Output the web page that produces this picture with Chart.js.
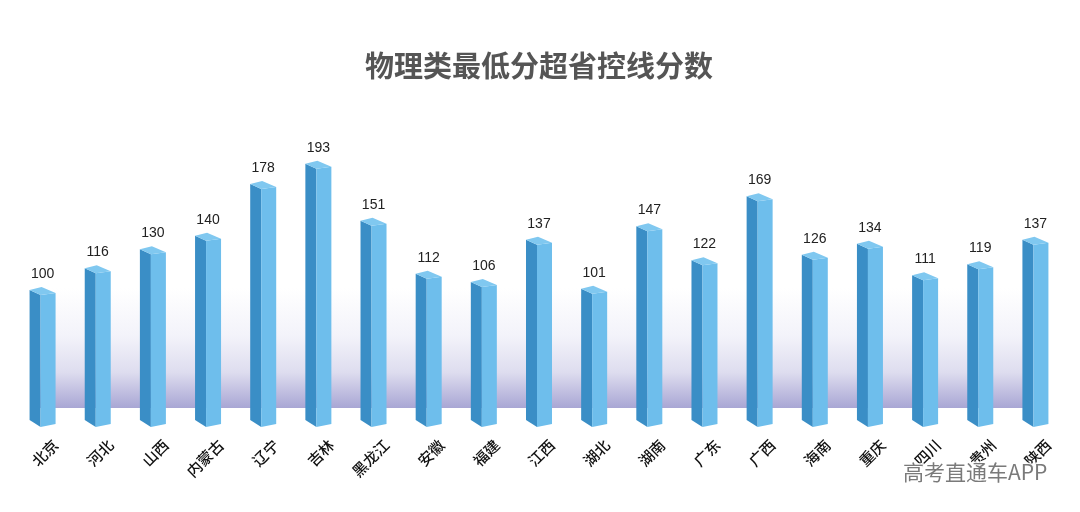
<!DOCTYPE html>
<html><head><meta charset="utf-8">
<script src="https://cdn.jsdelivr.net/npm/chart.js@4.4.0/dist/chart.umd.min.js"></script>
<style>html,body{margin:0;padding:0;background:#fff;}#wrap{width:1080px;height:512px;position:relative;}</style>
</head><body><div id="wrap"><canvas id="c"></canvas></div>
<script>
const categories = ['北京','河北','山西','内蒙古','辽宁','吉林','黑龙江','安徽','福建','江西','湖北','湖南','广东','广西','海南','重庆','四川','贵州','陕西'];
const values = [100,116,130,140,178,193,151,112,106,137,101,147,122,169,126,134,111,119,137];
const chartTitle = '物理类最低分超省控线分数';
const watermark = '高考直通车APP';

const COLORS = { side: 'rgb(58,142,198)', front: 'rgb(110,190,236)', top: 'rgb(128,200,240)' };

function poly(ctx, pts, color){
  ctx.beginPath();
  ctx.moveTo(pts[0][0], pts[0][1]);
  for (let i = 1; i < pts.length; i++) ctx.lineTo(pts[i][0], pts[i][1]);
  ctx.closePath();
  ctx.fillStyle = color;
  ctx.fill();
}

const bar3d = {
  id: 'bar3d',
  beforeDatasetsDraw(chart){
    const ctx = chart.ctx, xs = chart.scales.x, ys = chart.scales.y;
    const x0 = xs.getPixelForValue(0) - 3;
    const x1 = xs.getPixelForValue(categories.length - 1) - 5;
    const yb = ys.getPixelForValue(0) - 18;
    const yt = yb - 120;
    const g = ctx.createLinearGradient(0, yt, 0, yb);
    g.addColorStop(0, 'rgba(255,255,255,1)');
    g.addColorStop(0.4, 'rgb(243,243,250)');
    g.addColorStop(0.7, 'rgb(222,221,239)');
    g.addColorStop(1, 'rgb(168,166,212)');
    ctx.save();
    ctx.fillStyle = g;
    ctx.fillRect(x0, yt, x1 - x0, yb - yt);
    ctx.restore();
  },
  afterDatasetsDraw(chart){
    const ctx = chart.ctx;
    const meta = chart.getDatasetMeta(0);
    ctx.save();
    meta.data.forEach((el, i) => {
      const x = el.x, y0 = el.y, b = el.base;
      const L = x - 13, R = x - 2, Rt = x + 13;
      poly(ctx, [[L, y0], [R, y0 + 5], [R, b + 1], [L, b - 6]], COLORS.side);
      poly(ctx, [[R, y0 + 5], [Rt, y0 + 3], [Rt, b - 2], [R, b + 1]], COLORS.front);
      poly(ctx, [[L, y0], [x - 1, y0 - 3], [Rt, y0 + 3], [R, y0 + 5]], COLORS.top);
      ctx.fillStyle = '#222';
      ctx.font = '14px "Liberation Sans", Arial, sans-serif';
      ctx.textAlign = 'center';
      ctx.textBaseline = 'middle';
      ctx.fillText(String(values[i]), x, y0 - 16);
    });
    ctx.restore();
  },
  afterDraw(chart){
    const ctx = chart.ctx;
    ctx.save();
    ctx.font = '21px "Noto Sans CJK SC", sans-serif';
    ctx.textAlign = 'left';
    ctx.textBaseline = 'middle';
    ctx.lineWidth = 3;
    ctx.strokeStyle = 'rgba(255,255,255,0.9)';
    ctx.strokeText(watermark, 903, 472);
    ctx.fillStyle = '#7a7a7a';
    ctx.fillText(watermark, 903, 472);
    ctx.restore();
  }
};

new Chart(document.getElementById('c'), {
  type: 'bar',
  data: {
    labels: categories,
    datasets: [{ data: values, backgroundColor: 'rgba(0,0,0,0)', borderWidth: 0, barPercentage: 0.47, categoryPercentage: 1 }]
  },
  options: {
    responsive: true,
    maintainAspectRatio: false,
    animation: false,
    layout: { padding: { left: 15, right: 17, top: 0, bottom: 0 } },
    plugins: {
      legend: { display: false },
      tooltip: { enabled: false },
      title: {
        display: true,
        text: chartTitle,
        color: '#555',
        font: { family: '"Noto Sans CJK SC", sans-serif', size: 29, weight: 'bold' },
        padding: { top: 49, bottom: 16 }
      }
    },
    scales: {
      x: {
        grid: { display: false, drawTicks: false },
        border: { display: false },
        ticks: {
          autoSkip: false,
          maxRotation: 45, minRotation: 45,
          color: '#111',
          font: { family: '"Noto Sans CJK SC", sans-serif', size: 15, weight: '500' },
          padding: 10,
          labelOffset: 13
        },
        afterFit(s){ s.height = 86; }
      },
      y: { display: false, min: 0, max: 240 }
    }
  },
  plugins: [bar3d]
});
</script>
</body></html>
